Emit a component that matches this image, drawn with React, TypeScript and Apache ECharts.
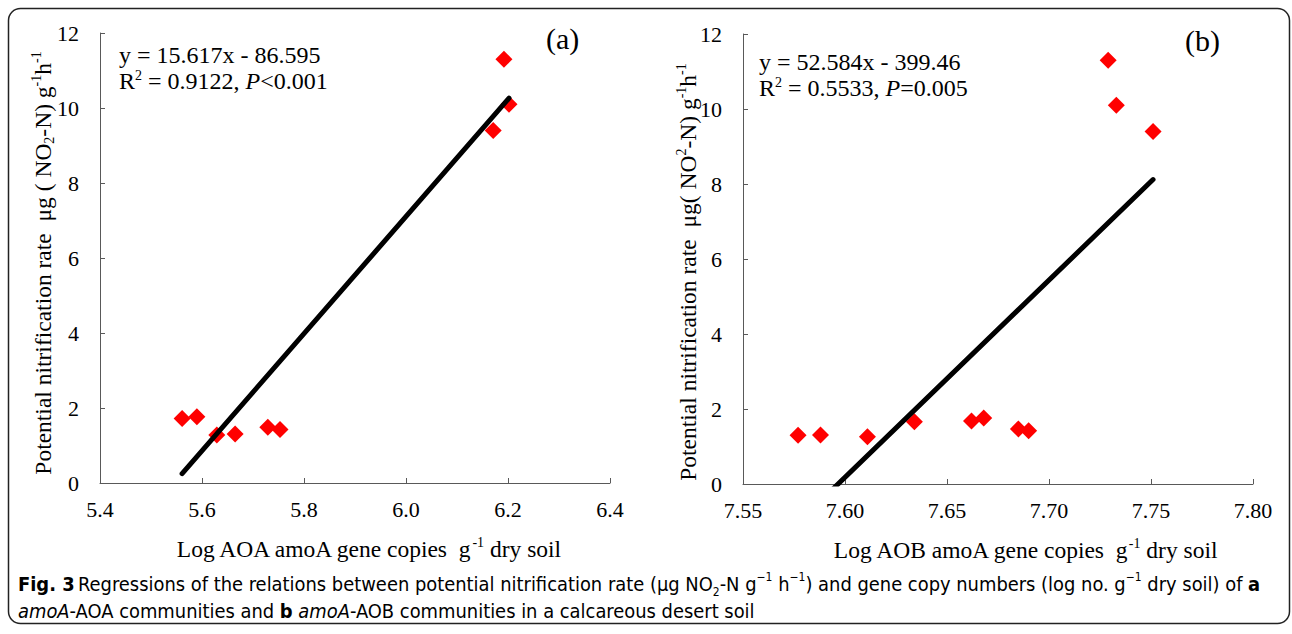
import React, { useEffect, useRef } from "react";
import * as echarts from "echarts";

// Panel (a): AOA
const aoaX = [5.561, 5.590, 5.629, 5.665, 5.729, 5.753, 6.192, 6.202, 6.171];
const aoaY = [1.72, 1.77, 1.28, 1.31, 1.49, 1.43, 11.3, 10.1, 9.4];
const aoaFit = { slope: 15.617, intercept: -86.595 };
const aoaXTicks = { min: 5.4, max: 6.4, interval: 0.2 };

// Panel (b): AOB
const aobX = [7.577, 7.588, 7.611, 7.634, 7.662, 7.668, 7.685, 7.690, 7.729, 7.733, 7.751];
const aobY = [1.3, 1.31, 1.26, 1.66, 1.68, 1.76, 1.47, 1.42, 11.3, 10.1, 9.4];
const aobFit = { slope: 52.584, intercept: -399.46 };
const aobXTicks = { min: 7.55, max: 7.8, interval: 0.05 };

const yTicks = { min: 0, max: 12, interval: 2 };

const SERIF = "'Liberation Serif', 'Times New Roman', serif";
const CAPTION_FONT = "'Liberation Sans Narrow', 'DejaVu Sans Condensed', 'Open Sans', sans-serif";

function fitLine(xs: number[], fit: { slope: number; intercept: number }) {
  const lo = Math.min(...xs);
  const hi = Math.max(...xs);
  return [
    [lo, fit.slope * lo + fit.intercept],
    [hi, fit.slope * hi + fit.intercept],
  ];
}

const richBase = {
  sup: { fontSize: 14, fontFamily: SERIF, color: "#000", verticalAlign: "top", lineHeight: 15 },
  sub: { fontSize: 14, fontFamily: SERIF, color: "#000", verticalAlign: "bottom", lineHeight: 15 },
  n: { fontSize: 23.5, fontFamily: SERIF, color: "#000", lineHeight: 27 },
  i: { fontSize: 23.5, fontFamily: SERIF, color: "#000", fontStyle: "italic", lineHeight: 27 },
};

export default function App() {
  const ref = useRef<HTMLDivElement>(null);
  useEffect(() => {
    document.body.style.margin = "0";
    const chart = echarts.init(ref.current!, undefined, { renderer: "svg" });
    const axisCommon = {
      axisLine: { show: true, lineStyle: { color: "#595959", width: 1 } },
      axisTick: { show: true, inside: true, length: 5, lineStyle: { color: "#595959" } },
      splitLine: { show: false },
    };
    const xAxis = (ticks: typeof aoaXTicks, idx: number, name: string, dec: number, shift: number) => ({
      type: "value",
      gridIndex: idx,
      min: ticks.min,
      max: ticks.max,
      interval: ticks.interval,
      ...axisCommon,
      axisLabel: {
        fontFamily: SERIF,
        fontSize: 22,
        color: "#000",
        margin: 15,
        formatter: (v: number) => v.toFixed(dec),
      },
      name,
      nameLocation: "middle",
      nameGap: 52,
      nameTextStyle: { rich: richBase, padding: [0, 0, 0, shift * 2] },
    });
    const yAxis = (idx: number) => ({
      type: "value",
      gridIndex: idx,
      min: yTicks.min,
      max: yTicks.max,
      interval: yTicks.interval,
      ...axisCommon,
      axisLabel: { fontFamily: SERIF, fontSize: 22, color: "#000", margin: 21 },
    });
    const scatter = (idx: number, xs: number[], ys: number[]) => ({
      type: "scatter",
      xAxisIndex: idx,
      yAxisIndex: idx,
      symbol: "diamond",
      symbolSize: 17,
      itemStyle: { color: "#ff0000", opacity: 1 },
      data: xs.map((x, i) => [x, ys[i]]),
      z: 2,
    });
    const line = (idx: number, xs: number[], fit: { slope: number; intercept: number }) => ({
      type: "line",
      xAxisIndex: idx,
      yAxisIndex: idx,
      symbol: "none",
      clip: true,
      lineStyle: { color: "#000", width: 5, cap: "round" },
      data: fitLine(xs, fit),
      z: 3,
    });
    const eqRich = {
      ...richBase,
      sup: { ...richBase.sup, fontSize: 14 },
      n: { ...richBase.n, fontSize: 24, lineHeight: 26 },
      i: { ...richBase.i, fontSize: 24, lineHeight: 26 },
    };
    chart.setOption({
      animation: false,
      grid: [
        { left: 100, top: 33, width: 510, height: 450 },
        { left: 743, top: 34, width: 510, height: 450 },
      ],
      xAxis: [
        xAxis(aoaXTicks, 0, "{n|Log AOA amoA gene copies  g}{sup|-1}{n| dry soil}", 1, 13),
        xAxis(aobXTicks, 1, "{n|Log AOB amoA gene copies  g}{sup|-1}{n| dry soil}", 2, 27),
      ],
      yAxis: [yAxis(0), yAxis(1)],
      series: [
        scatter(0, aoaX, aoaY),
        line(0, aoaX, aoaFit),
        scatter(1, aobX, aobY),
        line(1, aobX, aobFit),
      ],
      graphic: [
        {
          type: "rect",
          shape: { x: 8.5, y: 8.5, width: 1281, height: 615, r: 12 },
          style: { fill: "none", stroke: "#222", lineWidth: 1.5 },
          silent: true,
        },
        {
          type: "text",
          x: 43,
          y: 263,
          rotation: Math.PI / 2,
          style: {
            text: "{n|Potential nitrification rate  μg ( NO}{sub|2}{n|-N) g}{sup|-1}{n|h}{sup|-1}",
            rich: richBase,
            align: "center",
            verticalAlign: "middle",
          },
        },
        {
          type: "text",
          x: 688,
          y: 272,
          rotation: Math.PI / 2,
          style: {
            text: "{n|Potential nitrification rate  μg( NO}{sup|2}{n|-N) g}{sup|-1}{n|h}{sup|-1}",
            rich: richBase,
            align: "center",
            verticalAlign: "middle",
          },
        },
        {
          type: "text",
          x: 119,
          y: 42,
          style: {
            text: "{n|y = 15.617x - 86.595}\n{n|R}{sup|2}{n| = 0.9122, }{i|P}{n|<0.001}",
            rich: eqRich,
          },
        },
        {
          type: "text",
          x: 759,
          y: 49,
          style: {
            text: "{n|y = 52.584x - 399.46}\n{n|R}{sup|2}{n| = 0.5533, }{i|P}{n|=0.005}",
            rich: eqRich,
          },
        },
        {
          type: "text",
          x: 546,
          y: 23,
          style: { text: "(a)", font: `30px ${SERIF}`, fill: "#000" },
        },
        {
          type: "text",
          x: 1185,
          y: 25,
          style: { text: "(b)", font: `30px ${SERIF}`, fill: "#000" },
        },
        {
          type: "text",
          x: 18,
          y: 571,
          style: {
            text:
              "{b|Fig. 3} {t|Regressions of the relations between potential nitrification rate (μg NO}{cs|2}{t|-N g}{cp|−1}{t| h}{cp|−1}{t|) and gene copy numbers (log no. g}{cp|−1}{t| dry soil) of }{b|a}\n{it|amoA}{t|-AOA communities and }{b|b}{t| }{it|amoA}{t|-AOB communities in a calcareous desert soil}",
            rich: {
              t: { fontFamily: CAPTION_FONT, fontSize: 19.9, color: "#333", lineHeight: 27 },
              it: { fontFamily: CAPTION_FONT, fontSize: 19.9, color: "#333", fontStyle: "italic", lineHeight: 27 },
              b: { fontFamily: CAPTION_FONT, fontSize: 19.9, color: "#222", fontWeight: "bold", lineHeight: 27 },
              cp: { fontFamily: CAPTION_FONT, fontSize: 12, color: "#333", verticalAlign: "top", lineHeight: 20 },
              cs: { fontFamily: CAPTION_FONT, fontSize: 12, color: "#333", verticalAlign: "bottom", lineHeight: 20 },
            },
          },
        },
      ],
    });
    return () => chart.dispose();
  }, []);
  return (
    <div
      ref={ref}
      style={{ position: "absolute", left: 0, top: 0, width: 1292, height: 634, background: "#fff" }}
    />
  );
}
